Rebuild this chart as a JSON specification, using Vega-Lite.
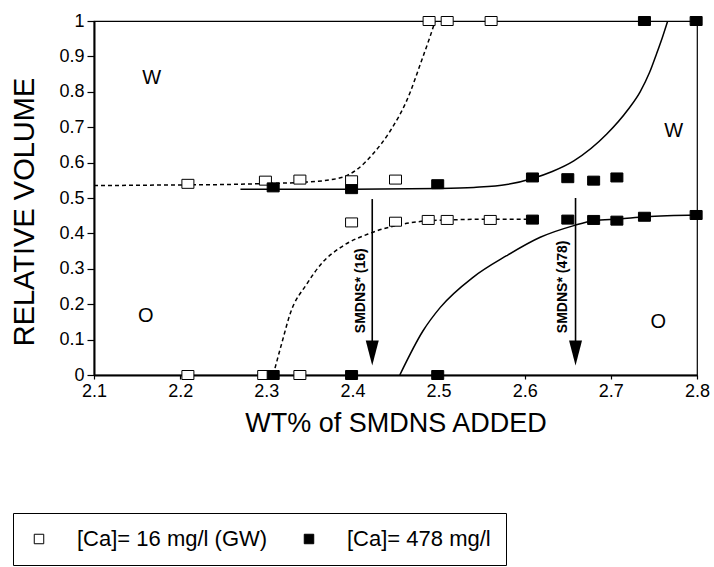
{
  "$schema": "https://vega.github.io/schema/vega-lite/v6.json",
  "width": 603,
  "height": 354,
  "autosize": {"type": "none"},
  "padding": {"left": 94, "top": 21, "right": 17, "bottom": 192},
  "background": "white",
  "config": {
    "font": "Liberation Sans",
    "view": {"stroke": "black", "strokeWidth": 1.2},
    "axis": {"grid": false, "domainColor": "black", "domainWidth": 2, "tickColor": "black", "tickWidth": 1.2, "labelColor": "black", "titleColor": "black", "labelFont": "Liberation Sans", "titleFont": "Liberation Sans", "labelFontSize": 18, "titleFontWeight": "normal", "labelOverlap": false, "labelFlush": false, "labelBound": false}
  },
  "datasets": {
    "pts": [
      {"x": 2.209, "y": 0.540, "series": "[Ca]= 16 mg/l (GW)"},
      {"x": 2.299, "y": 0.549, "series": "[Ca]= 16 mg/l (GW)"},
      {"x": 2.339, "y": 0.552, "series": "[Ca]= 16 mg/l (GW)"},
      {"x": 2.399, "y": 0.550, "series": "[Ca]= 16 mg/l (GW)"},
      {"x": 2.450, "y": 0.552, "series": "[Ca]= 16 mg/l (GW)"},
      {"x": 2.489, "y": 1.0, "series": "[Ca]= 16 mg/l (GW)"},
      {"x": 2.510, "y": 1.0, "series": "[Ca]= 16 mg/l (GW)"},
      {"x": 2.561, "y": 1.0, "series": "[Ca]= 16 mg/l (GW)"},
      {"x": 2.399, "y": 0.431, "series": "[Ca]= 16 mg/l (GW)"},
      {"x": 2.450, "y": 0.433, "series": "[Ca]= 16 mg/l (GW)"},
      {"x": 2.488, "y": 0.438, "series": "[Ca]= 16 mg/l (GW)"},
      {"x": 2.510, "y": 0.438, "series": "[Ca]= 16 mg/l (GW)"},
      {"x": 2.560, "y": 0.438, "series": "[Ca]= 16 mg/l (GW)"},
      {"x": 2.209, "y": 0.0, "series": "[Ca]= 16 mg/l (GW)"},
      {"x": 2.297, "y": 0.0, "series": "[Ca]= 16 mg/l (GW)"},
      {"x": 2.339, "y": 0.0, "series": "[Ca]= 16 mg/l (GW)"},
      {"x": 2.739, "y": 1.0, "series": "[Ca]= 478 mg/l"},
      {"x": 2.799, "y": 1.0, "series": "[Ca]= 478 mg/l"},
      {"x": 2.308, "y": 0.530, "series": "[Ca]= 478 mg/l"},
      {"x": 2.399, "y": 0.525, "series": "[Ca]= 478 mg/l"},
      {"x": 2.499, "y": 0.539, "series": "[Ca]= 478 mg/l"},
      {"x": 2.609, "y": 0.558, "series": "[Ca]= 478 mg/l"},
      {"x": 2.650, "y": 0.556, "series": "[Ca]= 478 mg/l"},
      {"x": 2.680, "y": 0.549, "series": "[Ca]= 478 mg/l"},
      {"x": 2.707, "y": 0.558, "series": "[Ca]= 478 mg/l"},
      {"x": 2.609, "y": 0.439, "series": "[Ca]= 478 mg/l"},
      {"x": 2.650, "y": 0.439, "series": "[Ca]= 478 mg/l"},
      {"x": 2.680, "y": 0.438, "series": "[Ca]= 478 mg/l"},
      {"x": 2.707, "y": 0.436, "series": "[Ca]= 478 mg/l"},
      {"x": 2.739, "y": 0.447, "series": "[Ca]= 478 mg/l"},
      {"x": 2.799, "y": 0.452, "series": "[Ca]= 478 mg/l"},
      {"x": 2.308, "y": 0.0, "series": "[Ca]= 478 mg/l"},
      {"x": 2.399, "y": 0.0, "series": "[Ca]= 478 mg/l"},
      {"x": 2.499, "y": 0.0, "series": "[Ca]= 478 mg/l"}
    ],
    "dashed": [
      {"curve": "u", "x": 2.1, "y": 0.535},
      {"curve": "u", "x": 2.2, "y": 0.537},
      {"curve": "u", "x": 2.25, "y": 0.538},
      {"curve": "u", "x": 2.3, "y": 0.541},
      {"curve": "u", "x": 2.347, "y": 0.545},
      {"curve": "u", "x": 2.386, "y": 0.557},
      {"curve": "u", "x": 2.405, "y": 0.580},
      {"curve": "u", "x": 2.424, "y": 0.625},
      {"curve": "u", "x": 2.444, "y": 0.690},
      {"curve": "u", "x": 2.463, "y": 0.775},
      {"curve": "u", "x": 2.482, "y": 0.900},
      {"curve": "u", "x": 2.490, "y": 0.955},
      {"curve": "u", "x": 2.496, "y": 1.0},
      {"curve": "l", "x": 2.308, "y": 0.0},
      {"curve": "l", "x": 2.318, "y": 0.09},
      {"curve": "l", "x": 2.328, "y": 0.175},
      {"curve": "l", "x": 2.347, "y": 0.257},
      {"curve": "l", "x": 2.366, "y": 0.320},
      {"curve": "l", "x": 2.386, "y": 0.360},
      {"curve": "l", "x": 2.420, "y": 0.400},
      {"curve": "l", "x": 2.450, "y": 0.422},
      {"curve": "l", "x": 2.480, "y": 0.434},
      {"curve": "l", "x": 2.510, "y": 0.438},
      {"curve": "l", "x": 2.560, "y": 0.440},
      {"curve": "l", "x": 2.605, "y": 0.440}
    ],
    "solid": [
      {"curve": "u", "x": 2.27, "y": 0.525},
      {"curve": "u", "x": 2.40, "y": 0.525},
      {"curve": "u", "x": 2.50, "y": 0.527},
      {"curve": "u", "x": 2.541, "y": 0.530},
      {"curve": "u", "x": 2.579, "y": 0.538},
      {"curve": "u", "x": 2.610, "y": 0.556},
      {"curve": "u", "x": 2.632, "y": 0.575},
      {"curve": "u", "x": 2.657, "y": 0.605},
      {"curve": "u", "x": 2.695, "y": 0.680},
      {"curve": "u", "x": 2.720, "y": 0.750},
      {"curve": "u", "x": 2.734, "y": 0.800},
      {"curve": "u", "x": 2.745, "y": 0.855},
      {"curve": "u", "x": 2.753, "y": 0.907},
      {"curve": "u", "x": 2.760, "y": 0.955},
      {"curve": "u", "x": 2.766, "y": 1.0},
      {"curve": "l", "x": 2.455, "y": 0.0},
      {"curve": "l", "x": 2.482, "y": 0.125},
      {"curve": "l", "x": 2.502, "y": 0.191},
      {"curve": "l", "x": 2.540, "y": 0.276},
      {"curve": "l", "x": 2.579, "y": 0.337},
      {"curve": "l", "x": 2.618, "y": 0.389},
      {"curve": "l", "x": 2.657, "y": 0.422},
      {"curve": "l", "x": 2.680, "y": 0.436},
      {"curve": "l", "x": 2.710, "y": 0.441},
      {"curve": "l", "x": 2.740, "y": 0.447},
      {"curve": "l", "x": 2.800, "y": 0.452}
    ],
    "arrows": [
      {"x": 2.423, "y": 0.497, "y2": 0.09, "head": 0.062},
      {"x": 2.659, "y": 0.500, "y2": 0.09, "head": 0.062}
    ],
    "arrowtext": [
      {"x": 2.4097, "y": 0.238, "label": "SMDNS* (16)"},
      {"x": 2.644, "y": 0.249, "label": "SMDNS* (478)"}
    ],
    "regions": [
      {"x": 2.167, "y": 0.840, "label": "W"},
      {"x": 2.160, "y": 0.167, "label": "O"},
      {"x": 2.773, "y": 0.690, "label": "W"},
      {"x": 2.755, "y": 0.149, "label": "O"}
    ]
  },
  "layer": [
    {
      "data": {"name": "dashed"},
      "mark": {"type": "line", "color": "black", "strokeWidth": 1.5, "strokeDash": [4, 3], "clip": true, "interpolate": "monotone"},
      "encoding": {
        "x": {"field": "x", "type": "quantitative", "scale": {"domain": [2.1, 2.8], "nice": false, "zero": false},
          "axis": {"values": [2.1, 2.2, 2.3, 2.4, 2.5, 2.6, 2.7, 2.8], "format": ".1f", "tickSize": 4, "labelPadding": 3, "labelOverlap": false,
            "title": "WT% of SMDNS ADDED", "titleFontSize": 27, "titleX": 301.5, "titleY": 56.5, "titleAlign": "center", "titleBaseline": "alphabetic"}},
        "y": {"field": "y", "type": "quantitative", "scale": {"domain": [0, 1], "nice": false},
          "axis": {"values": [0, 0.1, 0.2, 0.3, 0.4, 0.5, 0.6, 0.7, 0.8, 0.9, 1], "tickCount": 11, "format": "~g", "tickSize": 7, "labelPadding": 3, "labelOverlap": false, "labelFlush": false,
            "title": "RELATIVE VOLUME", "titleFontSize": 29, "titleAngle": 270, "titleX": -61, "titleY": 190.5, "titleAlign": "center", "titleBaseline": "alphabetic"}},
        "detail": {"field": "curve"},
        "order": {"field": "x", "type": "quantitative"}
      }
    },
    {
      "data": {"name": "solid"},
      "mark": {"type": "line", "color": "black", "strokeWidth": 1.5, "clip": true, "interpolate": "monotone"},
      "encoding": {
        "x": {"field": "x", "type": "quantitative"},
        "y": {"field": "y", "type": "quantitative"},
        "detail": {"field": "curve"},
        "order": {"field": "x", "type": "quantitative"}
      }
    },
    {
      "data": {"name": "arrows"},
      "mark": {"type": "rule", "color": "black", "strokeWidth": 1.6},
      "encoding": {
        "x": {"field": "x", "type": "quantitative"},
        "y": {"field": "y", "type": "quantitative"},
        "y2": {"field": "y2"}
      }
    },
    {
      "data": {"name": "arrows"},
      "mark": {"type": "point", "shape": "M-0.52,-1L0.52,-1L0,1Z", "filled": true, "color": "black", "size": 625, "opacity": 1},
      "encoding": {
        "x": {"field": "x", "type": "quantitative"},
        "y": {"field": "head", "type": "quantitative"}
      }
    },
    {
      "data": {"name": "pts"},
      "mark": {"type": "point", "shape": "M-1,-0.75H1V0.75H-1Z", "filled": true, "stroke": "black", "strokeWidth": 1, "size": 144, "opacity": 1},
      "encoding": {
        "x": {"field": "x", "type": "quantitative"},
        "y": {"field": "y", "type": "quantitative"},
        "fill": {"field": "series", "type": "nominal",
          "scale": {"domain": ["[Ca]= 16 mg/l (GW)", "[Ca]= 478 mg/l"], "range": ["white", "black"]},
          "legend": {"orient": "none", "legendX": -81, "legendY": 492, "direction": "horizontal",
            "title": null,
            "labelExpr": "datum.index == 1 ? datum.label + '\u00a0\u00a0\u00a0\u00a0\u00a0\u00a0\u00a0\u00a0\u00a0\u00a0\u00a0\u00a0\u00a0\u00a0\u00a0\u00a0\u00a0\u00a0\u00a0\u00a0\u00a0\u00a0\u00a0\u00a0\u00a0\u00a0\u00a0\u00a0\u00a0\u00a0\u00a0\u00a0\u00a0\u00a0\u00a0\u00a0\u00a0\u00a0\u00a0\u00a0\u00a0\u00a0\u00a0\u00a0\u00a0' : datum.label",
            "strokeColor": "black", "fillColor": "white", "padding": 15,
            "labelFontSize": 22, "labelFont": "Liberation Sans", "labelColor": "black", "labelLimit": 700,
            "symbolType": "square", "symbolSize": 90, "symbolStrokeColor": "black", "symbolStrokeWidth": 1,
            "labelOffset": 27, "columnPadding": 30}}
      }
    },
    {
      "data": {"name": "arrowtext"},
      "mark": {"type": "text", "angle": 270, "fontSize": 14, "fontWeight": "bold", "color": "black", "align": "center", "baseline": "middle"},
      "encoding": {
        "x": {"field": "x", "type": "quantitative"},
        "y": {"field": "y", "type": "quantitative"},
        "text": {"field": "label"}
      }
    },
    {
      "data": {"name": "regions"},
      "mark": {"type": "text", "fontSize": 20, "color": "black", "align": "center", "baseline": "middle"},
      "encoding": {
        "x": {"field": "x", "type": "quantitative"},
        "y": {"field": "y", "type": "quantitative"},
        "text": {"field": "label"}
      }
    }
  ]
}
